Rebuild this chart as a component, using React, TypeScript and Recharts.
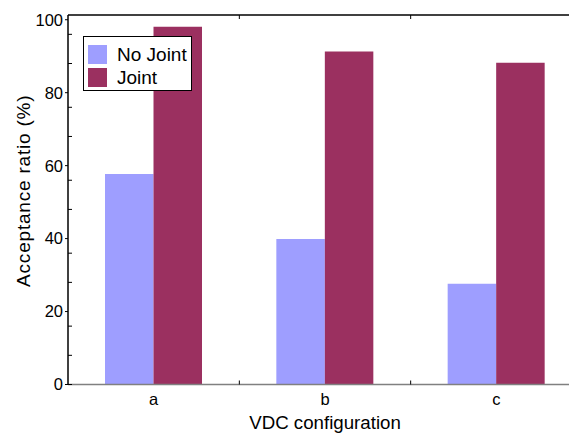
import { ComposedChart, Bar, Line, XAxis, YAxis, Legend } from "recharts";

const configs = ["a", "b", "c"];
const noJoint = [57.7, 39.9, 27.6];
const joint = [98.1, 91.3, 88.2];
const seriesNames = ["No Joint", "Joint"];
const yTicks = [0, 20, 40, 60, 80, 100];
const minorTicks = [4, 8, 12, 16, 24, 28, 32, 36, 44, 48, 52, 56, 64, 68, 72, 76, 84, 88, 92, 96];
const sepTicks = [1, 2];

const data = configs.map((name, i) => ({ name, pos: i + 0.5, noJoint: noJoint[i], joint: joint[i] }));

const FONT = '"Liberation Sans", Arial, sans-serif';
const NO_JOINT = "#9e9eff";
const JOINT = "#9b3060";

const Empty = () => <g />;

const LegendBox = ({ payload }: { payload?: { value: string; color: string }[] }) => {
  const items = [...(payload || [])]
    .filter((p) => seriesNames.includes(p.value))
    .sort((a, b) => seriesNames.indexOf(a.value) - seriesNames.indexOf(b.value));
  return (
    <div
      style={{
        width: 109,
        height: 55,
        border: "1px solid #000",
        background: "#fff",
        fontFamily: FONT,
        fontSize: 19,
        color: "#000",
        boxSizing: "border-box",
        padding: "6px 0 0 4px",
      }}
    >
      {items.map((p) => (
        <div key={p.value} style={{ display: "flex", alignItems: "center", height: 23 }}>
          <span style={{ width: 19, height: 19, background: p.color, marginRight: 10 }} />
          <span>{p.value}</span>
        </div>
      ))}
    </div>
  );
};

export default function App() {
  return (
    <div style={{ position: "absolute", left: 0, top: 0, width: 569, height: 434, overflow: "hidden", background: "#fff" }}>
      <ComposedChart
        width={582}
        height={434}
        data={data}
        margin={{ top: 15, right: 0, left: 0, bottom: 19.5 }}
        barGap={0}
        barCategoryGap={0}
        style={{ fontFamily: FONT }}
      >
        <XAxis
          xAxisId="cat"
          dataKey="name"
          height={30}
          tickLine={false}
          tickSize={0}
          tickMargin={9}
          axisLine={{ stroke: "#808080", strokeWidth: 1.5 }}
          tick={{ fill: "#000", fontSize: 16.5, fontFamily: FONT }}
          label={{
            content: ({ viewBox }: any) => (
              <text
                x={viewBox.x + viewBox.width / 2}
                y={viewBox.y + 44.5}
                textAnchor="middle"
                fontSize={18.7}
                fontFamily={FONT}
                fill="#000"
              >
                VDC configuration
              </text>
            ),
          }}
        />
        <XAxis
          xAxisId="sep"
          type="number"
          dataKey="pos"
          domain={[0, 3]}
          allowDataOverflow
          ticks={sepTicks}
          orientation="bottom"
          mirror
          height={1}
          tickSize={4}
          axisLine={false}
          tickLine={{ stroke: "#000" }}
          tick={<Empty />}
        />
        <XAxis
          xAxisId="top"
          type="number"
          dataKey="pos"
          domain={[0, 3]}
          allowDataOverflow
          ticks={sepTicks}
          orientation="top"
          mirror
          height={1}
          tickSize={4}
          axisLine={{ stroke: "#000", strokeWidth: 1.5 }}
          tickLine={{ stroke: "#000" }}
          tick={<Empty />}
        />
        <YAxis
          yAxisId="left"
          type="number"
          domain={[0, 101.3]}
          allowDataOverflow
          ticks={yTicks}
          width={68}
          tickSize={3}
          tickMargin={2}
          axisLine={{ stroke: "#000", strokeWidth: 1.5 }}
          tickLine={{ stroke: "#000" }}
          tick={{ fill: "#000", fontSize: 16.5, fontFamily: FONT }}
          label={{
            content: ({ viewBox }: any) => {
              const cx = 29.5;
              const cy = viewBox.y + viewBox.height / 2 - 9;
              return (
                <text
                  x={cx}
                  y={cy}
                  transform={`rotate(-90 ${cx} ${cy})`}
                  textAnchor="middle"
                  fontSize={19}
                  letterSpacing={0.8}
                  fontFamily={FONT}
                  fill="#000"
                >
                  Acceptance ratio (%)
                </text>
              );
            },
          }}
        />
        <YAxis
          yAxisId="minor"
          type="number"
          domain={[0, 101.3]}
          allowDataOverflow
          ticks={[...yTicks, ...minorTicks]}
          mirror
          width={1}
          tickSize={4}
          axisLine={false}
          tickLine={{ stroke: "#000" }}
          tick={<Empty />}
        />
        <Legend
          layout="vertical"
          align="center"
          verticalAlign="middle"
          wrapperStyle={{ left: 83, top: 36, width: 109, height: 55 }}
          content={<LegendBox />}
        />
        <Bar xAxisId="cat" yAxisId="left" dataKey="noJoint" name="No Joint" fill={NO_JOINT} barSize={48.5} isAnimationActive={false} />
        <Bar xAxisId="cat" yAxisId="left" dataKey="joint" name="Joint" fill={JOINT} barSize={48.5} isAnimationActive={false} />
        {/* invisible series so the frame axes get a domain and render */}
        <Line xAxisId="top" yAxisId="minor" dataKey="joint" stroke="none" dot={false} activeDot={false} legendType="none" isAnimationActive={false} />
        <Line xAxisId="sep" yAxisId="minor" dataKey="noJoint" stroke="none" dot={false} activeDot={false} legendType="none" isAnimationActive={false} />
      </ComposedChart>
    </div>
  );
}
